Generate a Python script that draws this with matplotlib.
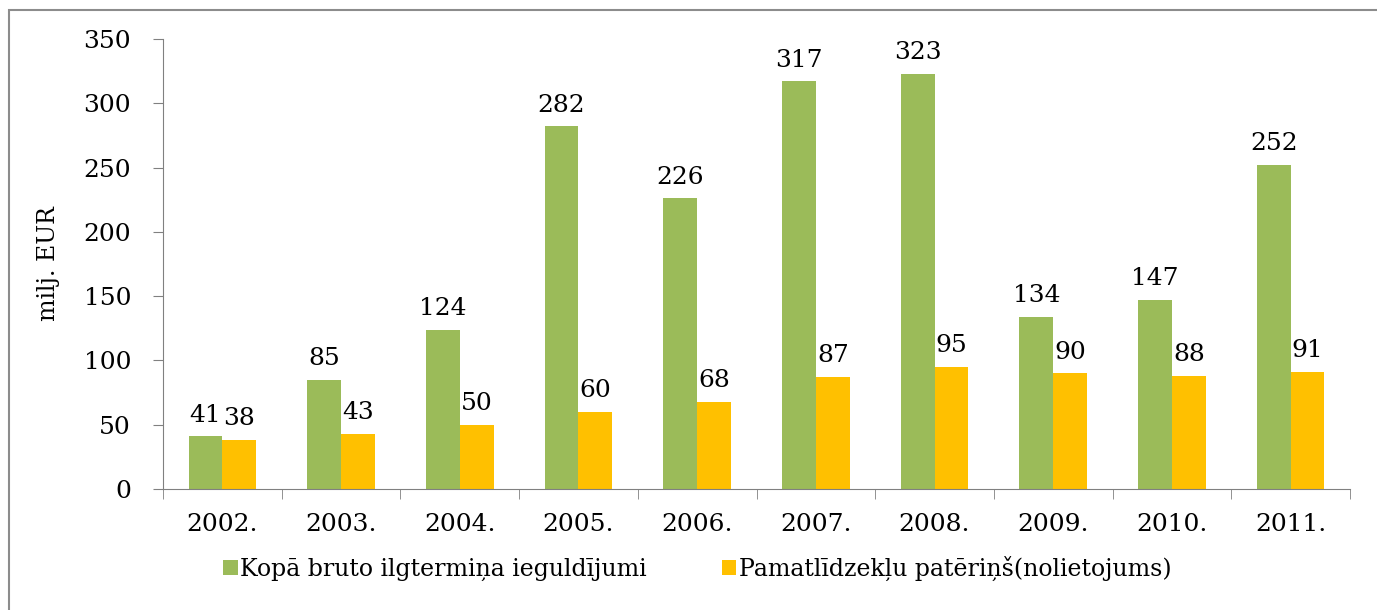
import numpy as np
import matplotlib.pyplot as plt
from matplotlib.patches import Rectangle

years = ['2002.', '2003.', '2004.', '2005.', '2006.', '2007.', '2008.', '2009.', '2010.', '2011.']
gross = [41, 85, 124, 282, 226, 317, 323, 134, 147, 252]
depr = [38, 43, 50, 60, 68, 87, 95, 90, 88, 91]
lbl_gross = 'Kopā bruto ilgtermiņa ieguldījumi'
lbl_depr = 'Pamatlīdzekļu patēriņš(nolietojums)'

plt.rcParams['font.family'] = ['DejaVu Serif']
fs = 18

fig = plt.figure(figsize=(13.77, 6.10), dpi=100)
ax = fig.add_axes([163/1377, 1-489/610, (1350-163)/1377, 450/610])

# outer frame (only left and top edges fall inside the image)
fig.patches.append(Rectangle((9/1377, -0.5), 2, 1.5 - 10/610, transform=fig.transFigure,
                             fill=False, edgecolor='#8c8c8c', linewidth=1.5))

x = np.arange(len(years))
w = 0.285
b1 = ax.bar(x - w/2, gross, w, color='#9BBB59', label=lbl_gross)
b2 = ax.bar(x + w/2, depr, w, color='#FFC000', label=lbl_depr)
ax.bar_label(b1, padding=7, fontsize=fs)
ax.bar_label(b2, padding=7, fontsize=fs)

ax.set_xlim(-0.5, len(years) - 0.5)
ax.set_ylim(0, 350)
ax.set_yticks(range(0, 351, 50))
ax.set_xticks(x)
ax.set_xticklabels(years, fontsize=fs)
ax.set_xticks(np.arange(-0.5, len(years)), minor=True)
ax.tick_params(axis='x', which='major', length=0, pad=17)
ax.tick_params(axis='x', which='minor', length=7, color='#808080')
ax.tick_params(axis='y', length=7, color='#808080', labelsize=fs, pad=16)
for s in ['top', 'right']:
    ax.spines[s].set_visible(False)
for s in ['left', 'bottom']:
    ax.spines[s].set_color('#808080')
ax.set_ylabel('milj. EUR', fontsize=fs - 1, labelpad=22)
ax.yaxis.set_label_coords(-103/1187, 0.5)

fig.legend(loc='center left', bbox_to_anchor=(214/1377, 1-568/610), ncol=2, frameon=False,
           fontsize=fs - 1, handlelength=0.6, handleheight=0.6, handletextpad=0.1,
           columnspacing=3.2, borderaxespad=0)

fig.savefig('out.png', dpi=100)
